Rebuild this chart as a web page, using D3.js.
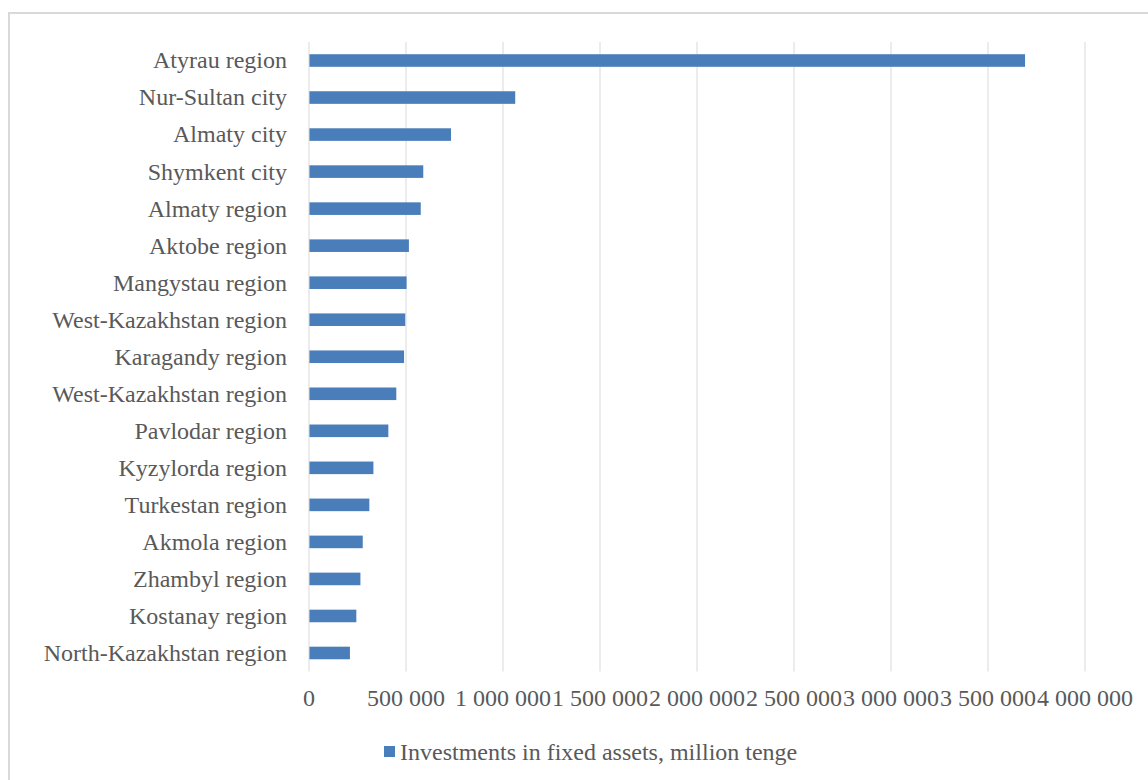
<!DOCTYPE html>
<html><head><meta charset="utf-8">
<script src="https://cdn.jsdelivr.net/npm/d3@7"></script>
<style>
html,body{margin:0;padding:0;background:#fff;}
svg{display:block;}
text{font-family:"Liberation Serif","Times New Roman",serif;fill:#595959;}
</style></head><body>
<script>
const categories = ["Atyrau region","Nur-Sultan city","Almaty city","Shymkent city","Almaty region","Aktobe region","Mangystau region","West-Kazakhstan region","Karagandy region","West-Kazakhstan region ","Pavlodar region","Kyzylorda region","Turkestan region","Akmola region","Zhambyl region","Kostanay region","North-Kazakhstan region"];
const values = [3691000,1063000,732000,589000,576000,515000,503000,496000,490000,450000,409000,332000,311000,277000,265000,244000,211000];
const tickValues = [0,500000,1000000,1500000,2000000,2500000,3000000,3500000,4000000];
const tickLabels = ["0","500 000","1 000 000","1 500 000","2 000 000","2 500 000","3 000 000","3 500 000","4 000 000"];
const seriesName = "Investments in fixed assets, million tenge";

const W = 1148, H = 780;
const svg = d3.select("body").append("svg").attr("width", W).attr("height", H);

// outer chart border
svg.append("rect").attr("x", 9).attr("y", 13).attr("width", W + 10).attr("height", H + 10)
  .attr("fill", "#fff").attr("stroke", "#d9d9d9").attr("stroke-width", 2);

const x = d3.scaleLinear().domain([0, 4000000]).range([309, 1085]);
const y = d3.scaleBand().domain(d3.range(categories.length)).range([42, 671.5]).paddingInner(0.66).paddingOuter(0.33);

// gridlines
svg.append("g").selectAll("line").data(tickValues.slice(1)).join("line")
  .attr("x1", d => x(d)).attr("x2", d => x(d))
  .attr("y1", 42).attr("y2", 671.5)
  .attr("stroke", "#d9d9d9").attr("stroke-width", 1);

// bars
svg.append("g").selectAll("rect").data(values).join("rect")
  .attr("x", x(0)).attr("y", (d, i) => y(i))
  .attr("width", d => x(d) - x(0)).attr("height", y.bandwidth())
  .attr("fill", "#4a7ebb");

// vertical axis line
svg.append("line").attr("x1", x(0)).attr("x2", x(0)).attr("y1", 42).attr("y2", 671.5)
  .attr("stroke", "#d9d9d9").attr("stroke-width", 1);

// category labels
svg.append("g").selectAll("text").data(categories).join("text")
  .attr("x", 287).attr("y", (d, i) => y(i) + y.bandwidth() / 2)
  .attr("dy", "0.33em").attr("text-anchor", "end")
  .attr("font-size", 24).text(d => d.trim());

// x tick labels
svg.append("g").selectAll("text").data(tickValues).join("text")
  .attr("x", d => x(d)).attr("y", 706)
  .attr("text-anchor", "middle").attr("font-size", 24)
  .text((d, i) => tickLabels[i]);

// legend
svg.append("rect").attr("x", 384).attr("y", 746).attr("width", 11).attr("height", 11).attr("fill", "#4a7ebb");
svg.append("text").attr("x", 400).attr("y", 760).attr("font-size", 24).text(seriesName);
</script>
</body></html>
